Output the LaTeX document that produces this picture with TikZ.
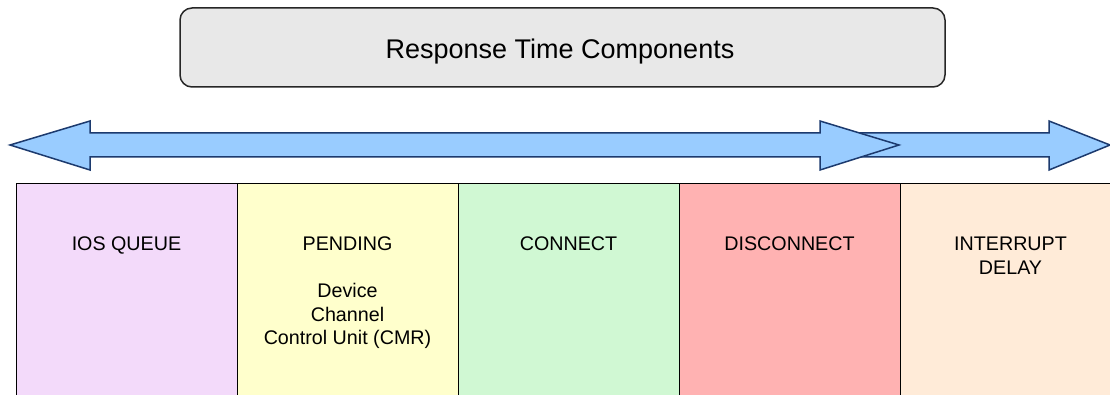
\documentclass[tikz,border=0pt]{standalone}
\usepackage{fontspec}
\setmainfont{Liberation Sans}
\definecolor{iosc}{HTML}{F3DAFA}
\definecolor{pendc}{HTML}{FFFFCC}
\definecolor{connc}{HTML}{D0F8D3}
\definecolor{discc}{HTML}{FFB2B2}
\definecolor{intc}{HTML}{FFEBD8}
\definecolor{arrowfill}{HTML}{99CCFF}
\definecolor{arrowline}{HTML}{1C3A6E}
\definecolor{titlefill}{HTML}{E8E8E8}
\tikzset{
  compbox/.style={draw=black, line width=1.3pt, minimum width=221pt, minimum height=217pt, anchor=north west, inner sep=0pt},
  lbl/.style={anchor=north, inner sep=0pt, align=center, font=\fontsize{19.7}{23.5}\selectfont},
  titlebox/.style={draw=black!85, fill=titlefill, line width=1.5pt, rounded corners=12pt, minimum width=765pt, minimum height=79pt, inner sep=0pt},
  blockarrow/.style={draw=arrowline, fill=arrowfill, line width=1.5pt, line join=miter}
}
\begin{document}
\begin{tikzpicture}[x=1pt,y=-1pt]
\useasboundingbox (0,0) rectangle (1110,395);
\clip (0,0) rectangle (1110,395);
% title
\node[titlebox] (title) at (562.5,47.5) {};
\node[anchor=base, inner sep=0pt, font=\fontsize{27}{32}\selectfont] (titletext) at (560,59) {Response Time Components};
% arrows
\draw[blockarrow] (840,133) -- (1049,133) -- (1049,121) -- (1110,145) -- (1049,170) -- (1049,157) -- (840,157) -- cycle;
\draw[blockarrow] (10,145) -- (90,121) -- (90,133) -- (820,133) -- (820,121) -- (899,145) -- (820,170) -- (820,157) -- (90,157) -- (90,170) -- cycle;
% component boxes
\node[compbox, fill=iosc] (ios) at (16,183) {};
\node[compbox, fill=pendc] (pend) at (237,183) {};
\node[compbox, fill=connc] (conn) at (458,183) {};
\node[compbox, fill=discc] (disc) at (679,183) {};
\node[compbox, fill=intc] (intr) at (900,183) {};
% labels
\node[lbl] (iosl) at (126.5,237) {IOS QUEUE};
\node[lbl] (pendl) at (347.5,237) {PENDING\\[23.5pt]Device\\Channel\\Control Unit (CMR)};
\node[lbl] (connl) at (568.5,237) {CONNECT};
\node[lbl] (discl) at (789.5,237) {DISCONNECT};
\node[lbl] (intrl) at (1010.5,237) {INTERRUPT\\DELAY};
\end{tikzpicture}
\end{document}
